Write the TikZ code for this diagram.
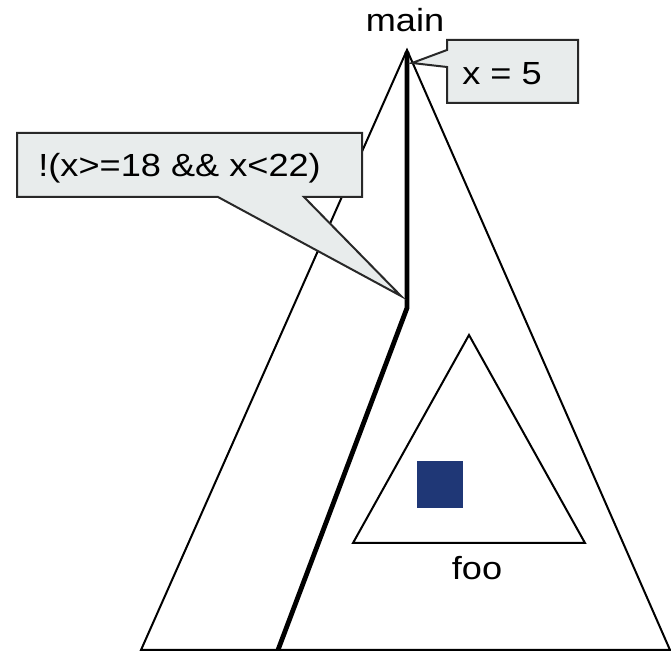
\documentclass[tikz,border=0pt]{standalone}
\usepackage{fontspec}
\setmainfont[FakeStretch=1.13]{Liberation Sans}
\definecolor{bubblegray}{RGB}{232,236,236}
\definecolor{edgegray}{RGB}{40,40,40}
\definecolor{stmtblue}{RGB}{31,55,118}
\begin{document}
\begin{tikzpicture}[
  x=0.5pt, y=-0.5pt,
  font=\fontsize{16}{19}\selectfont,
  tri/.style={draw, line width=1pt, line join=miter},
  trace/.style={draw, line width=2.4pt},
  bubble/.style={draw=edgegray, fill=bubblegray, line width=1pt},
  lbl/.style={inner sep=0pt, anchor=base},
  btext/.style={inner sep=0pt, anchor=base west},
]
\useasboundingbox (0,0) rectangle (671,652);

% ---------------- the program tree of main ----------------
\coordinate (apex) at (407,50);
\coordinate (bl)   at (141,650);
\coordinate (br)   at (670,650);
\draw[tri] (apex) -- (bl) -- (br) -- cycle;
\node[lbl] (lmain) at (405,32) {main};

% ---------------- the subtree of foo ----------------
\coordinate (ftop) at (469,335);
\coordinate (fbl)  at (353,543);
\coordinate (fbr)  at (585,543);
\draw[tri] (ftop) -- (fbl) -- (fbr) -- cycle;
\node[lbl] (lfoo) at (477,580) {foo};
\fill[stmtblue] (417,461) rectangle (463,508);

% ---------------- the path taken ----------------
\coordinate (bend) at (407,308);
\coordinate (pend) at (278,650);
\draw[trace] (407,52) -- (bend) -- (pend);

% ---------------- the callouts ----------------
\coordinate (tipx)    at (412,63);
\coordinate (tipcond) at (401,296);
\draw[bubble] (447,40) -- (578,40) -- (578,103) -- (447,103)
  -- (447,67) -- (tipx) -- (447,50) -- cycle;
\node[btext] (tx) at (462,85) {x = 5};

\draw[bubble] (17,133) -- (362,133) -- (362,197) -- (304,197)
  -- (tipcond) -- (218,197) -- (17,197) -- cycle;
\node[btext] (tcond) at (38,177) {!(x>=18 \&\& x<22)};

\end{tikzpicture}
\end{document}
